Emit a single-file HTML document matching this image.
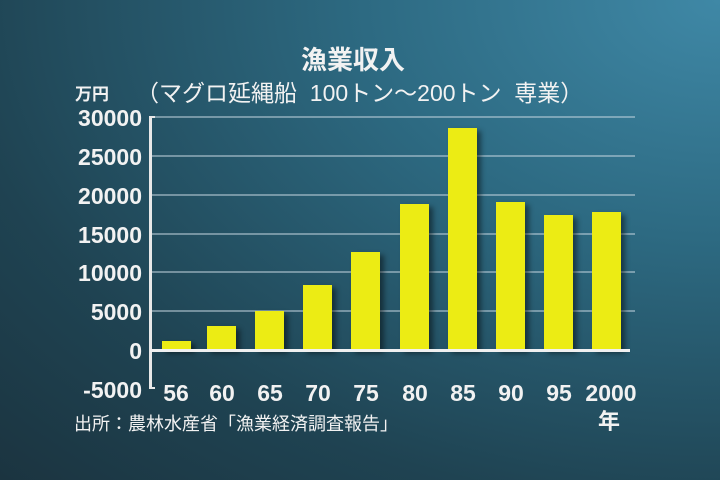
<!DOCTYPE html>
<html><head><meta charset="utf-8"><style>
body{margin:0;width:720px;height:480px;overflow:hidden;background:radial-gradient(ellipse at 100% 0%,#3f88a6 0%,#2d6a82 35%,#1f4352 75%,#1b3440 100%);font-family:"Liberation Sans","Noto Sans CJK JP",sans-serif;color:#f2f2f2;position:relative}
.t{position:absolute;white-space:nowrap;font-weight:bold}
.bar{position:absolute;background:#ecec14;box-shadow:4px 3px 5px rgba(0,0,0,.45);width:29px}
.g{position:absolute;left:150px;width:485px;height:2px;background:rgba(200,215,225,.5)}
.yl{position:absolute;right:578px;font-size:23px;font-weight:bold;text-align:right;line-height:24px}
.xl{position:absolute;top:380px;font-size:23px;font-weight:bold;width:50px;text-align:center}
</style></head><body>
<div class="t" style="left:301px;top:40px;font-size:26px">漁業収入</div>
<div class="t" style="left:75px;top:80px;font-size:17px">万円</div>
<div class="t" style="left:136px;top:74px;font-size:23px;font-weight:normal">（マグロ延縄船&nbsp; 100トン～200トン&nbsp; 専業）</div>
<div class="g" style="top:116px"></div>
<div class="g" style="top:155px"></div>
<div class="g" style="top:194px"></div>
<div class="g" style="top:233px"></div>
<div class="g" style="top:271px"></div>
<div class="g" style="top:310px"></div>
<div style="position:absolute;left:149px;top:116px;width:3px;height:273px;background:#e8e8e8"></div>
<div style="position:absolute;left:149px;top:116px;width:6px;height:2px;background:#e8e8e8"></div>
<div style="position:absolute;left:149px;top:387px;width:6px;height:2px;background:#e8e8e8"></div>
<div class="bar" style="left:162px;top:341px;height:9px"></div>
<div class="bar" style="left:207px;top:326px;height:24px"></div>
<div class="bar" style="left:255px;top:311px;height:39px"></div>
<div class="bar" style="left:303px;top:285px;height:65px"></div>
<div class="bar" style="left:351px;top:252px;height:98px"></div>
<div class="bar" style="left:400px;top:204px;height:146px"></div>
<div class="bar" style="left:448px;top:128px;height:222px"></div>
<div class="bar" style="left:496px;top:202px;height:148px"></div>
<div class="bar" style="left:544px;top:215px;height:135px"></div>
<div class="bar" style="left:592px;top:212px;height:138px"></div>
<div style="position:absolute;left:150px;top:349px;width:480px;height:3px;background:#f0f0f0"></div>
<div class="yl" style="top:106px">30000</div>
<div class="yl" style="top:145px">25000</div>
<div class="yl" style="top:184px">20000</div>
<div class="yl" style="top:223px">15000</div>
<div class="yl" style="top:261px">10000</div>
<div class="yl" style="top:300px">5000</div>
<div class="yl" style="top:339px">0</div>
<div class="yl" style="top:378px">-5000</div>
<div class="xl" style="left:151px">56</div>
<div class="xl" style="left:197px">60</div>
<div class="xl" style="left:245px">65</div>
<div class="xl" style="left:293px">70</div>
<div class="xl" style="left:341px">75</div>
<div class="xl" style="left:390px">80</div>
<div class="xl" style="left:438px">85</div>
<div class="xl" style="left:486px">90</div>
<div class="xl" style="left:534px">95</div>
<div class="xl" style="left:578px;width:66px">2000</div>
<div class="t" style="left:598px;top:404px;font-size:22px">年</div>
<div class="t" style="left:74px;top:410px;font-size:18px;font-weight:normal">出所：農林水産省「漁業経済調査報告」</div>
</body></html>
